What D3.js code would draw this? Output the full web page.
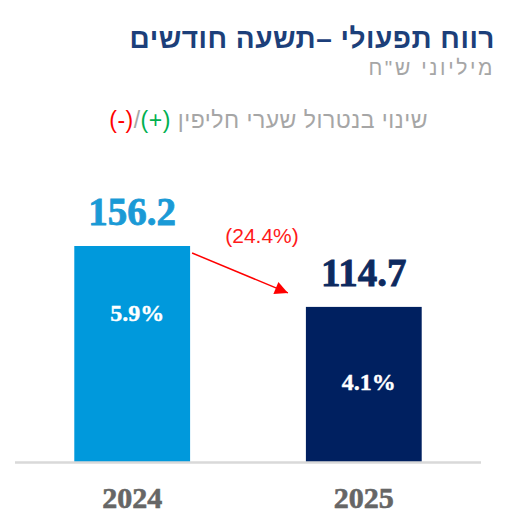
<!DOCTYPE html>
<html>
<head>
<meta charset="utf-8">
<script src="https://cdn.jsdelivr.net/npm/d3@7"></script>
<style>
  body { margin: 0; background: #fff; }
</style>
</head>
<body>
<div id="wrapper"></div>
<script>
// data
const years = ['2024', '2025']
const values = [156.2, 114.7]
const valueLabels = ['156.2', '114.7']
const margins = ['5.9%', '4.1%']
const changeLabel = '(24.4%)'
const title = 'רווח תפעולי –תשעה חודשים'
const subtitle = 'מיליוני ש"ח'
const noteText = 'שינוי בנטרול שערי חליפין '

function draw() {
  const dimensions = {
    width: 507,
    height: 513,
    baseline: 462,
    top: 246,
    left: 15,
    right: 481,
  }

  const barColors = ['#0099dc', '#002060']
  const valueColors = ['#1a9ad6', '#0d2a5f']
  const serif = "'Liberation Serif', 'Times New Roman', serif"
  const sans = "'Liberation Sans', Arial, sans-serif"

  const svg = d3
    .select('#wrapper')
    .append('svg')
    .attr('width', dimensions.width)
    .attr('height', dimensions.height)

  // Scales
  const xScale = d3
    .scaleBand()
    .domain(years)
    .range([dimensions.left, dimensions.right])
    .paddingInner(0.5)
    .paddingOuter(0.256)

  const yScale = d3
    .scaleLinear()
    .domain([9, d3.max(values)])
    .range([dimensions.baseline, dimensions.top])

  // Titles
  svg
    .append('text')
    .attr('x', 495)
    .attr('y', 48)
    .attr('direction', 'rtl')
    .style('text-anchor', 'start')
    .style('font-family', sans)
    .style('font-weight', 'bold')
    .style('font-size', '28px')
    .style('letter-spacing', '0.5px')
    .style('fill', '#1c3f7a')
    .text(title)

  svg
    .append('text')
    .attr('x', 495)
    .attr('y', 75)
    .attr('direction', 'rtl')
    .style('text-anchor', 'start')
    .style('font-family', sans)
    .style('font-size', '21px')
    .style('letter-spacing', '2.6px')
    .style('fill', '#a6a6a6')
    .text(subtitle)

  const note = svg
    .append('text')
    .attr('x', 428)
    .attr('y', 128)
    .attr('direction', 'rtl')
    .style('text-anchor', 'start')
    .style('font-family', sans)
    .style('font-size', '23px')
    .style('letter-spacing', '0.5px')
  note.append('tspan').style('fill', '#a6a6a6').text(noteText)
  note.append('tspan').style('fill', '#00b050').text('(+)')
  note.append('tspan').style('fill', '#a6a6a6').text('/')
  note.append('tspan').style('fill', '#ff0000').text('(-)')

  // Bars
  svg
    .append('g')
    .selectAll('rect')
    .data(values)
    .join('rect')
    .attr('x', (d, i) => xScale(years[i]))
    .attr('y', (d) => yScale(d))
    .attr('width', xScale.bandwidth())
    .attr('height', (d) => dimensions.baseline - yScale(d))
    .style('fill', (d, i) => barColors[i])

  // baseline
  svg
    .append('line')
    .attr('x1', dimensions.left)
    .attr('x2', dimensions.right)
    .attr('y1', dimensions.baseline + 0.5)
    .attr('y2', dimensions.baseline + 0.5)
    .style('stroke', '#d9d9d9')
    .style('stroke-width', 2.5)

  // value labels above bars
  svg
    .append('g')
    .selectAll('text')
    .data(values)
    .join('text')
    .attr('x', (d, i) => xScale(years[i]) + xScale.bandwidth() / 2)
    .attr('y', (d) => yScale(d) - 21)
    .style('text-anchor', 'middle')
    .style('font-family', serif)
    .style('font-weight', 'bold')
    .style('font-size', '39px')
    .style('fill', (d, i) => valueColors[i])
    .style('stroke', (d, i) => valueColors[i])
    .style('stroke-width', 0.8)
    .text((d, i) => valueLabels[i])

  // margin labels inside bars
  const innerOffsets = [75, 83]
  svg
    .append('g')
    .selectAll('text')
    .data(margins)
    .join('text')
    .attr('x', (d, i) => xScale(years[i]) + xScale.bandwidth() / 2 + 5)
    .attr('y', (d, i) => yScale(values[i]) + innerOffsets[i])
    .style('text-anchor', 'middle')
    .style('font-family', serif)
    .style('font-weight', 'bold')
    .style('font-size', '24px')
    .style('fill', '#ffffff')
    .style('stroke', '#ffffff')
    .style('stroke-width', 0.4)
    .text((d) => d)

  // x axis labels
  svg
    .append('g')
    .selectAll('text')
    .data(years)
    .join('text')
    .attr('x', (d) => xScale(d) + xScale.bandwidth() / 2)
    .attr('y', 508)
    .style('text-anchor', 'middle')
    .style('font-family', serif)
    .style('font-weight', 'bold')
    .style('font-size', '30px')
    .style('fill', '#666666')
    .style('stroke', '#666666')
    .style('stroke-width', 0.6)
    .text((d) => d)

  // change arrow
  const defs = svg.append('defs')
  defs
    .append('marker')
    .attr('id', 'arrow-head')
    .attr('viewBox', '0 0 10 10')
    .attr('refX', 10)
    .attr('refY', 5)
    .attr('markerWidth', 18)
    .attr('markerHeight', 13)
    .attr('markerUnits', 'userSpaceOnUse')
    .attr('orient', 'auto')
    .append('path')
    .attr('d', 'M0,0 L10,5 L0,10 Z')
    .style('fill', '#ff0000')

  const x1 = xScale(years[0]) + xScale.bandwidth() + 2
  const y1 = yScale(values[0]) + 7
  const x2 = xScale(years[1]) - 18
  const y2 = yScale(values[1]) - 14
  svg
    .append('line')
    .attr('x1', x1)
    .attr('y1', y1)
    .attr('x2', x2)
    .attr('y2', y2)
    .style('stroke', '#ff0000')
    .style('stroke-width', 1.5)
    .attr('marker-end', 'url(#arrow-head)')

  svg
    .append('text')
    .attr('x', (x1 + x2) / 2 + 22)
    .attr('y', 243)
    .style('text-anchor', 'middle')
    .style('font-family', sans)
    .style('font-size', '21px')
    .style('fill', '#ff1a1a')
    .text(changeLabel)
}
draw()
</script>
</body>
</html>
